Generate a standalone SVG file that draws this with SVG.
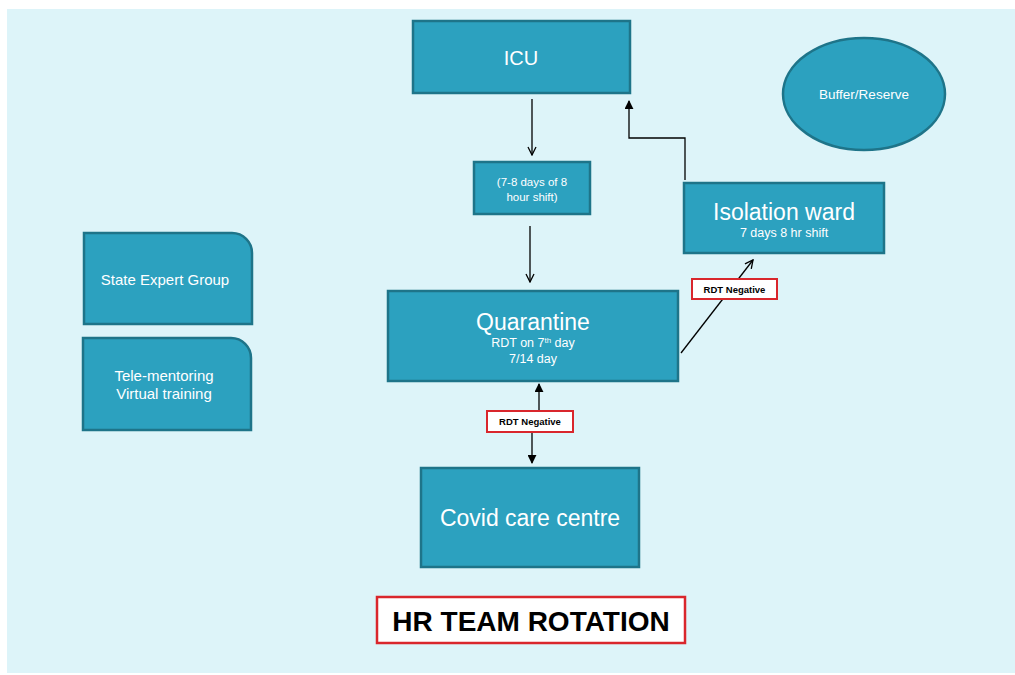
<svg xmlns="http://www.w3.org/2000/svg" width="1015" height="675" viewBox="0 0 1015 675">
<style>
.n{fill:#2CA1BF;stroke:#1E7489;stroke-width:2.5}
.t{font-family:"Liberation Sans",Arial,sans-serif;fill:#FFFFFF;text-anchor:middle}
.c{stroke:#000;stroke-width:1.3;fill:none}
.lbl{fill:#fff;stroke:#D9262C;stroke-width:2}
.lt{font-family:"Liberation Sans",Arial,sans-serif;font-weight:bold;fill:#000;text-anchor:middle}
</style>
<defs>
<marker id="open" viewBox="0 0 10 10" refX="9" refY="5" markerWidth="10" markerHeight="10" markerUnits="userSpaceOnUse" orient="auto"><path d="M1,1 L9,5 L1,9" fill="none" stroke="#000" stroke-width="1.3"/></marker>
<marker id="fill" viewBox="0 0 10 10" refX="9" refY="5" markerWidth="9" markerHeight="9" markerUnits="userSpaceOnUse" orient="auto"><path d="M0,0 L10,5 L0,10 Z" fill="#000"/></marker>
</defs>
<rect x="7" y="9" width="1008" height="664" fill="#DDF4F9"/>
<g id="connectors">
<line class="c" x1="532" y1="99" x2="532" y2="155" marker-end="url(#open)"/>
<line class="c" x1="530" y1="226" x2="530" y2="282" marker-end="url(#open)"/>
<polyline class="c" points="685,180 685,138 629,138 629,101" marker-end="url(#fill)"/>
<line class="c" x1="681" y1="353" x2="753" y2="260" marker-end="url(#open)"/>
<line class="c" x1="539" y1="411" x2="539" y2="384" marker-end="url(#fill)"/>
<line class="c" x1="532" y1="432" x2="532" y2="463" marker-end="url(#fill)"/>
<g id="label-rdt1"><rect class="lbl" x="692" y="279" width="85" height="20"/><text class="lt" x="734.5" y="293" font-size="9.5">RDT Negative</text></g>
<g id="label-rdt2"><rect class="lbl" x="487" y="411" width="86" height="21"/><text class="lt" x="530" y="425" font-size="9.5">RDT Negative</text></g>
</g>
<g id="icu"><rect class="n" x="413" y="21" width="217" height="72"/><text class="t" x="521" y="65" font-size="20">ICU</text></g>
<g id="shift"><rect class="n" x="474" y="162" width="116" height="52"/><text class="t" x="532" y="186" font-size="11.5">(7-8 days of 8</text><text class="t" x="532" y="201" font-size="11.5">hour shift)</text></g>
<g id="quarantine"><rect class="n" x="388" y="291" width="290" height="90"/><text class="t" x="533" y="330" font-size="23">Quarantine</text><text class="t" x="533" y="347" font-size="12.5">RDT on 7<tspan font-size="8" dy="-4">th</tspan><tspan dy="4"> day</tspan></text><text class="t" x="533" y="363" font-size="12.5">7/14 day</text></g>
<g id="isolation"><rect class="n" x="684" y="183" width="200" height="70"/><text class="t" x="784" y="220" font-size="23">Isolation ward</text><text class="t" x="784" y="237" font-size="12.5">7 days 8 hr shift</text></g>
<g id="covid"><rect class="n" x="421" y="468" width="218" height="99"/><text class="t" x="530" y="526" font-size="23">Covid care centre</text></g>
<g id="state"><path class="n" d="M84,233 H232 A20,20 0 0 1 252,253 V324 H84 Z"/><text class="t" x="165" y="285" font-size="15">State Expert Group</text></g>
<g id="tele"><path class="n" d="M83,338 H231 A20,20 0 0 1 251,358 V430 H83 Z"/><text class="t" x="164" y="381" font-size="15">Tele-mentoring</text><text class="t" x="164" y="399" font-size="15">Virtual training</text></g>
<g id="buffer"><ellipse class="n" cx="864" cy="94" rx="81" ry="56"/><text class="t" x="864" y="99" font-size="13.5">Buffer/Reserve</text></g>
<g id="title"><rect x="377" y="597" width="308" height="46" fill="#fff" stroke="#D9262C" stroke-width="2.5"/><text class="lt" x="531" y="631" font-size="28">HR TEAM ROTATION</text></g>
</svg>
